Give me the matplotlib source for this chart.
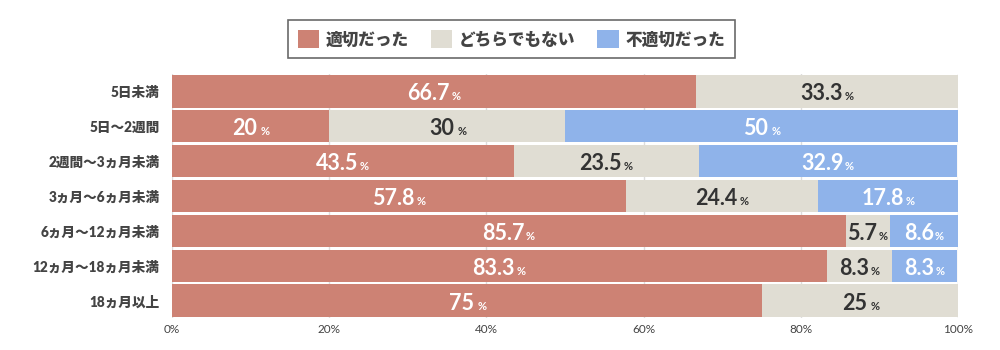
import matplotlib.pyplot as plt

plt.rcParams['font.family'] = ['Lato', 'Noto Sans CJK JP', 'DejaVu Sans']

# data
categories = ["5日未満", "5日〜2週間", "2週間〜3ヵ月未満", "3ヵ月〜6ヵ月未満",
              "6ヵ月〜12ヵ月未満", "12ヵ月〜18ヵ月未満", "18ヵ月以上"]
series_names = ["適切だった", "どちらでもない", "不適切だった"]
appropriate = [66.7, 20, 43.5, 57.8, 85.7, 83.3, 75]
neither = [33.3, 30, 23.5, 24.4, 5.7, 8.3, 25]
inappropriate = [0, 50, 32.9, 17.8, 8.6, 8.3, 0]
x_ticks = [0, 20, 40, 60, 80, 100]

colors = ["#cd8274", "#e0ddd3", "#8fb3ea"]
text_colors = ["white", "#333333", "white"]

fig = plt.figure(figsize=(10, 3.5), dpi=100)
ax = fig.add_axes([0.172, 0.091, 0.786, 0.698])

y = list(range(len(categories)))
left = [0] * len(categories)
for name, vals, c, tc in zip(series_names, [appropriate, neither, inappropriate], colors, text_colors):
    ax.barh(y, vals, left=left, height=0.93, color=c, label=name, zorder=2)
    for i, v in enumerate(vals):
        if v <= 0:
            continue
        cx = left[i] + v / 2
        s = f"{v:g}"
        t = ax.annotate(s, xy=(cx, i), xytext=(-4, -6.5), textcoords="offset points",
                        ha="center", va="baseline", fontsize=15.5, fontweight="bold",
                        color=tc, zorder=3)
        gap = 1 if "." in s else 2.5
        ax.annotate("%", xy=(1, 0), xycoords=t, xytext=(gap, 1.6), textcoords="offset points",
                    ha="left", va="bottom", fontsize=8, fontweight="bold",
                    color=tc, zorder=3)
    left = [a + b for a, b in zip(left, vals)]

ax.set_xlim(0, 100)
ax.set_ylim(len(categories) - 0.5, -0.5)
ax.set_yticks(y)
ax.set_yticklabels(categories, fontsize=9.8, fontweight="heavy", color="#444444")
ax.set_xticks(x_ticks)
ax.set_xticklabels([f"{v}%" for v in x_ticks], fontsize=8.5, color="#444444")
ax.tick_params(length=0, pad=9)
ax.tick_params(axis="x", pad=4)
ax.grid(axis="x", color="#dddddd", linewidth=1, zorder=0)
for sp in ax.spines.values():
    sp.set_visible(False)

leg = fig.legend(loc="upper center", bbox_to_anchor=(0.5115, 0.966), ncol=3,
                 fancybox=False, frameon=True, handlelength=1.3, handleheight=1.3,
                 handletextpad=0.4, columnspacing=1.3, borderpad=0.6,
                 prop={"size": 12, "weight": "heavy"})
leg.get_frame().set_edgecolor("#444444")
leg.get_frame().set_linewidth(1.2)
for t in leg.get_texts():
    t.set_color("#444444")

fig.savefig("out.png")
